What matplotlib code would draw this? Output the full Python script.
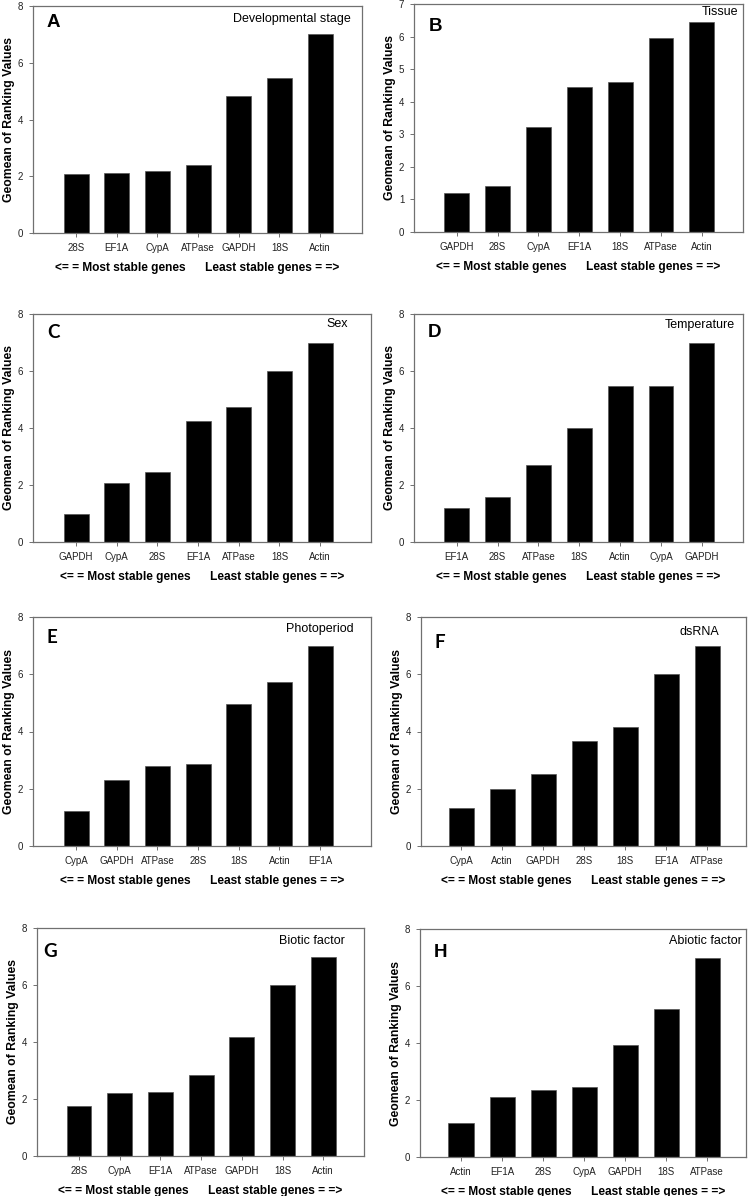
import matplotlib
matplotlib.use('Agg')
import matplotlib.pyplot as plt

plt.rcParams['font.family'] = ['Liberation Sans', 'DejaVu Sans']

# panel letters and conditions
letters = ['A', 'B', 'C', 'D', 'E', 'F', 'G', 'H']
conditions = ['Developmental stage', 'Tissue', 'Sex', 'Temperature',
              'Photoperiod', 'dsRNA', 'Biotic factor', 'Abiotic factor']

genes_A = ['28S', 'EF1A', 'CypA', 'ATPase', 'GAPDH', '18S', 'Actin']
vals_A = [2.07, 2.11, 2.20, 2.38, 4.82, 5.48, 7.0]

genes_B = ['GAPDH', '28S', 'CypA', 'EF1A', '18S', 'ATPase', 'Actin']
vals_B = [1.19, 1.41, 3.23, 4.44, 4.62, 5.97, 6.45]

genes_C = ['GAPDH', 'CypA', '28S', 'EF1A', 'ATPase', '18S', 'Actin']
vals_C = [1.0, 2.06, 2.45, 4.23, 4.74, 6.0, 7.0]

genes_D = ['EF1A', '28S', 'ATPase', '18S', 'Actin', 'CypA', 'GAPDH']
vals_D = [1.19, 1.57, 2.71, 4.0, 5.48, 5.48, 7.0]

genes_E = ['CypA', 'GAPDH', 'ATPase', '28S', '18S', 'Actin', 'EF1A']
vals_E = [1.21, 2.30, 2.80, 2.85, 4.96, 5.74, 7.0]

genes_F = ['CypA', 'Actin', 'GAPDH', '28S', '18S', 'EF1A', 'ATPase']
vals_F = [1.33, 2.0, 2.52, 3.66, 4.16, 6.0, 7.0]

genes_G = ['28S', 'CypA', 'EF1A', 'ATPase', 'GAPDH', '18S', 'Actin']
vals_G = [1.74, 2.21, 2.26, 2.84, 4.17, 6.0, 7.0]

genes_H = ['Actin', 'EF1A', '28S', 'CypA', 'GAPDH', '18S', 'ATPase']
vals_H = [1.19, 2.11, 2.34, 2.44, 3.94, 5.19, 7.0]

all_genes = [genes_A, genes_B, genes_C, genes_D, genes_E, genes_F, genes_G, genes_H]
all_vals = [vals_A, vals_B, vals_C, vals_D, vals_E, vals_F, vals_G, vals_H]
ymax = [8, 7, 8, 8, 8, 8, 8, 8]

# layout: axes box in pixels (left, right, top, bottom) and x-limits
W, H = 750, 1196
boxes = [(33, 362, 6, 233), (414, 743, 4, 232),
         (33, 371, 314, 542), (414, 743, 314, 542),
         (33, 371, 617, 846), (421, 746, 617, 846),
         (37, 364, 928, 1156), (420, 746, 929, 1157)]
xlims = [(-1.06, 7.03), (-1.05, 7.01), (-1.06, 7.25), (-1.05, 7.01),
         (-1.06, 7.25), (-0.98, 6.95), (-1.03, 7.0), (-1.0, 6.95)]
# letter offset (px from left, px from top), condition offset (px from right, px from top)
letter_off = [(14, 8), (15, 14), (14, 10), (14, 10), (14, 12), (14, 17), (6, 15), (14, 15)]
cond_off = [(11, 7), (5, 2), (23, 4), (8, 5), (17, 6), (27, 9), (19, 7), (4, 6)]
letter_font = ['Liberation Sans', 'Liberation Sans', 'Lato', 'Liberation Sans',
               'Lato', 'Lato', 'Lato', 'Liberation Sans']

spine_col = '#707070'
fig = plt.figure(figsize=(W / 100, H / 100), dpi=100)

for i in range(8):
    l, r, t, b = boxes[i]
    w, h = r - l, b - t
    ax = fig.add_axes([l / W, 1 - b / H, w / W, h / H])
    x = range(len(all_vals[i]))
    ax.bar(x, all_vals[i], width=0.61, color='black', edgecolor='#555555', linewidth=0.5)
    ax.set_xlim(*xlims[i])
    ax.set_ylim(0, ymax[i])
    ax.set_yticks(range(0, ymax[i] + 1, 2 if ymax[i] == 8 else 1))
    ax.set_xticks(list(x))
    ax.set_xticklabels(all_genes[i])
    ax.tick_params(axis='both', labelsize=7, colors=spine_col, labelcolor='#222222',
                   length=3, width=0.7, pad=4)
    for s in ax.spines.values():
        s.set_color(spine_col)
        s.set_linewidth(0.9)
    ax.set_ylabel('Geomean of Ranking Values', fontsize=8.8, fontweight='bold')
    ax.yaxis.set_label_coords(-18 / w, 0.5)
    ax.set_xlabel('<= = Most stable genes      Least stable genes = =>',
                  fontsize=8.6, fontweight='bold')
    ax.xaxis.set_label_coords(0.5, -29 / h)
    lx, ly = letter_off[i]
    ax.text(lx / w, 1 - ly / h, letters[i], transform=ax.transAxes,
            fontsize=13.5, fontweight='bold', family=letter_font[i], va='top', ha='left')
    cx, cy = cond_off[i]
    ax.text(1 - cx / w, 1 - cy / h, conditions[i], transform=ax.transAxes,
            fontsize=9, va='top', ha='right')

fig.savefig('out.png', dpi=100)
